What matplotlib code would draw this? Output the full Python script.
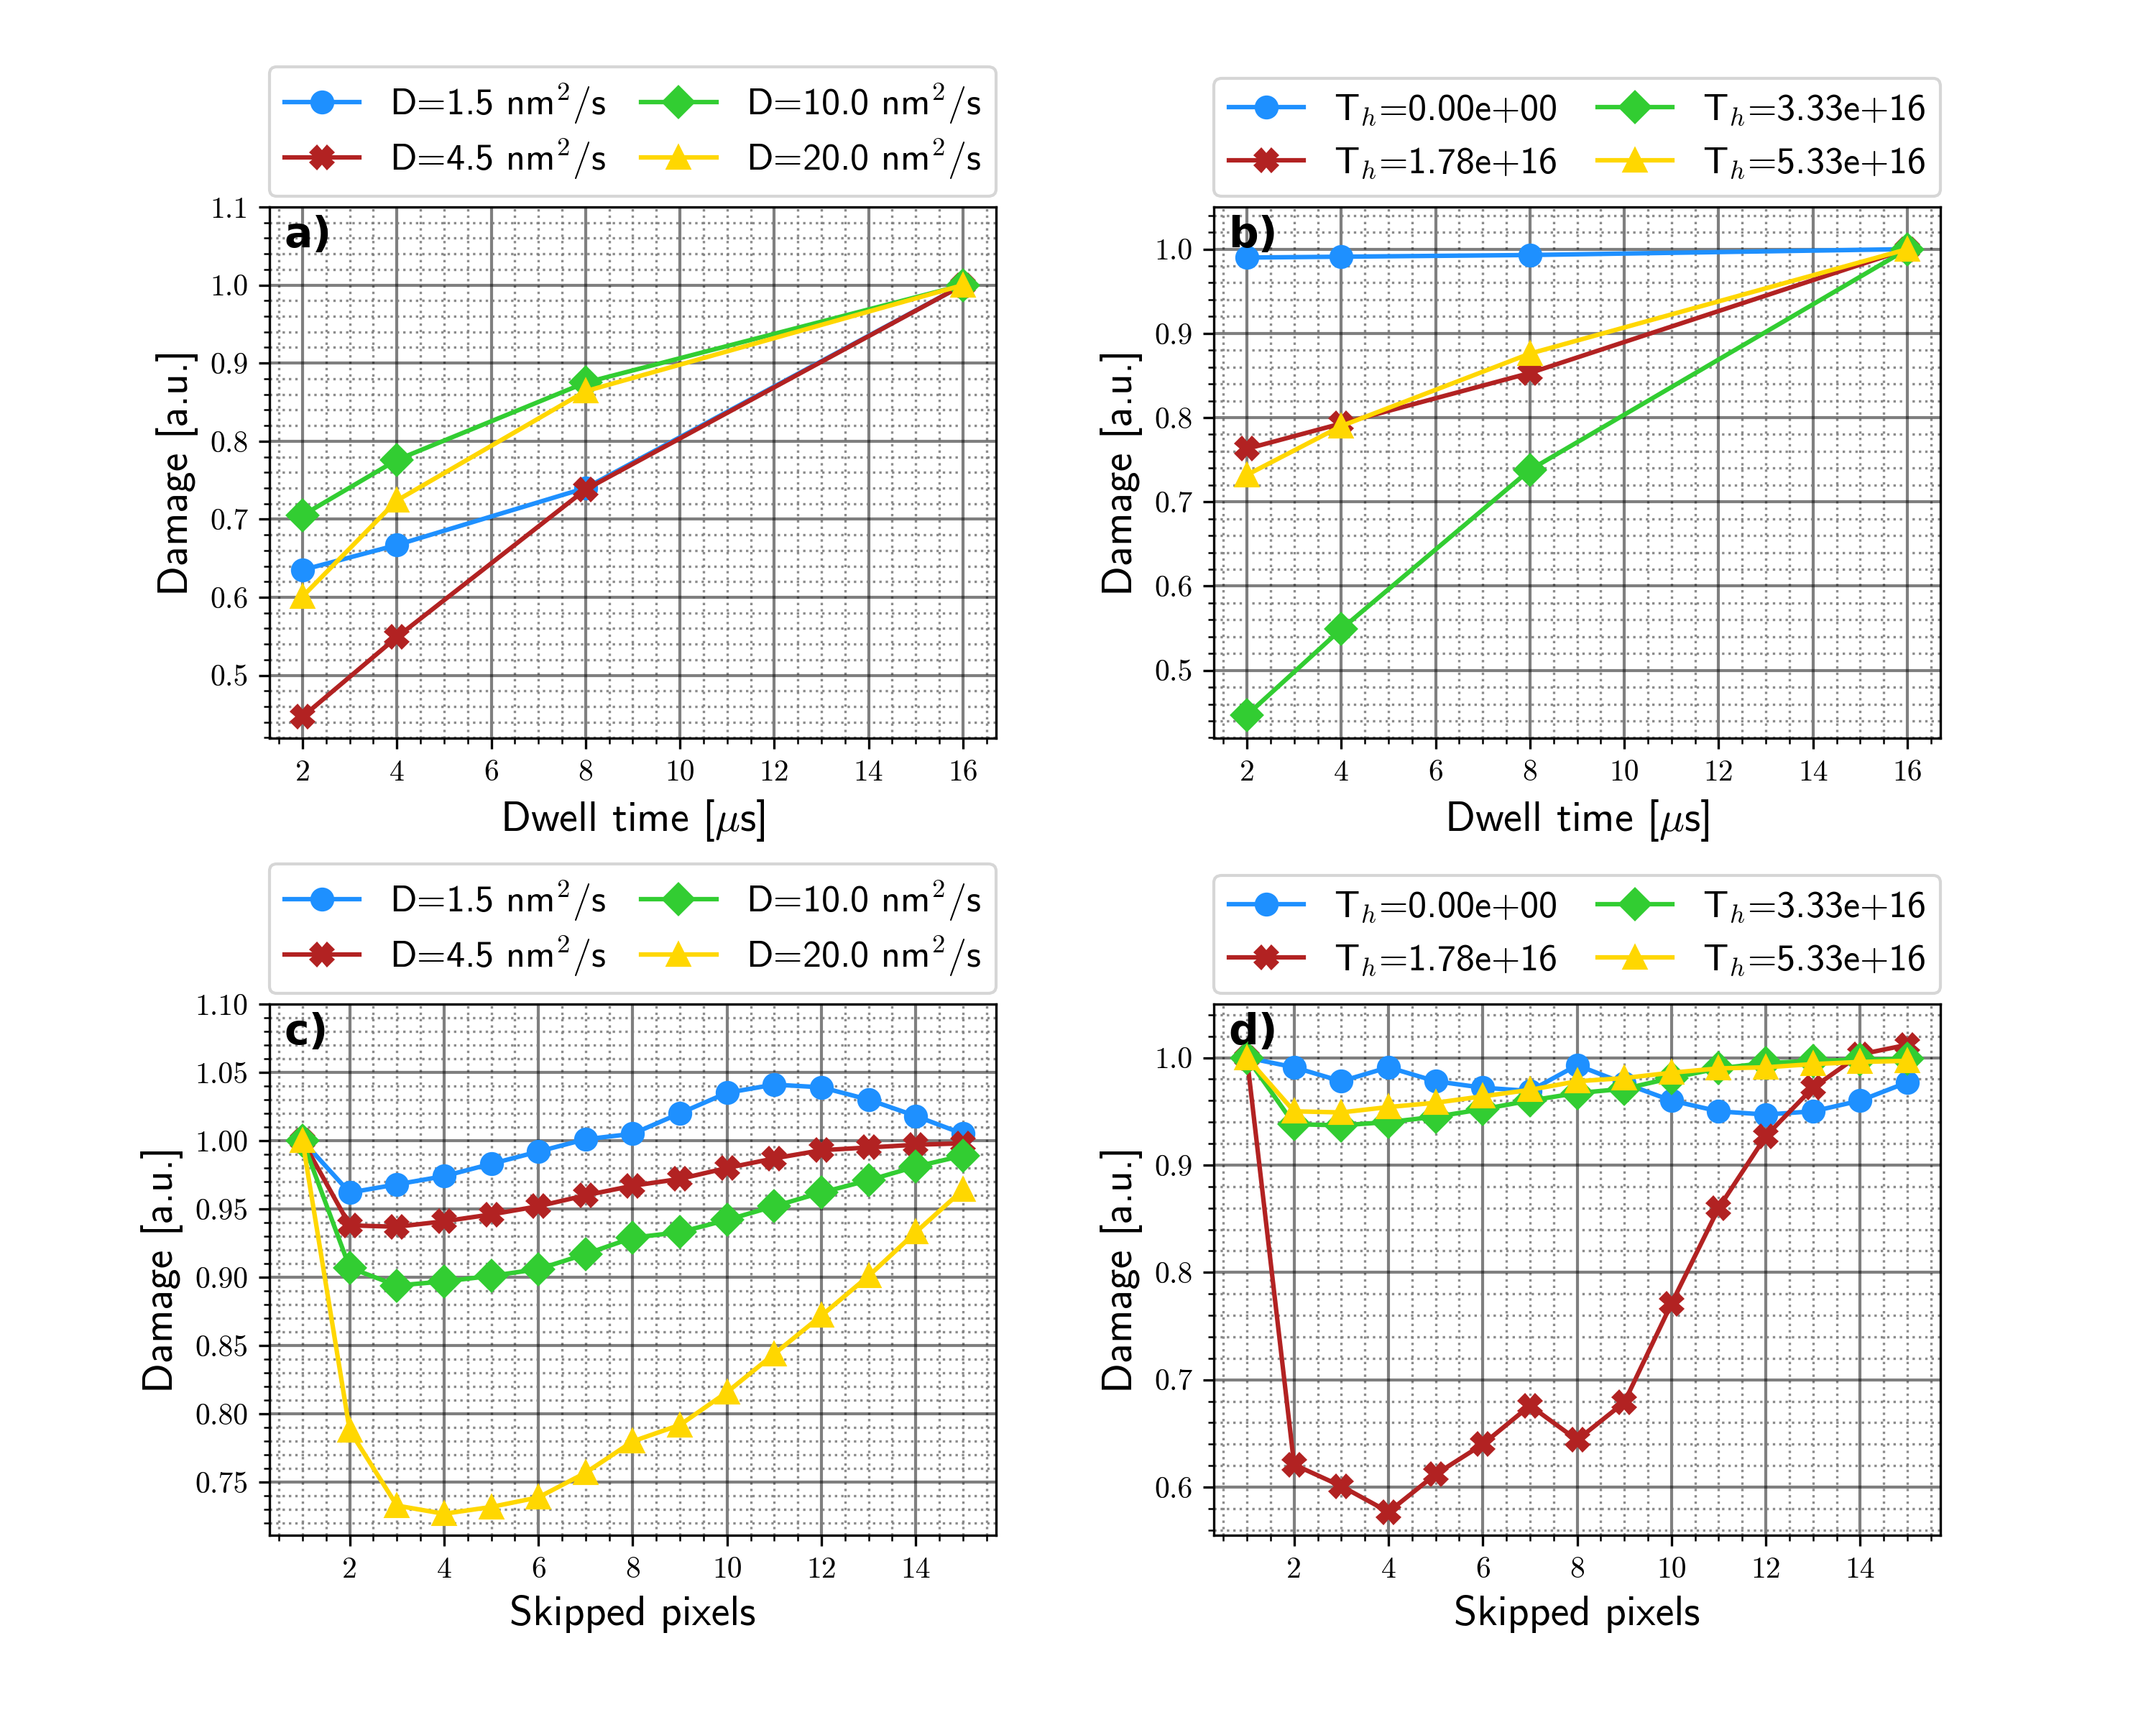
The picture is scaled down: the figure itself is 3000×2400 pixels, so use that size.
import matplotlib
matplotlib.use("Agg")
import matplotlib.pyplot as plt
from matplotlib.ticker import AutoMinorLocator

plt.rcParams["mathtext.fontset"] = "cm"
plt.rcParams["font.family"] = "cmss10"
plt.rcParams["axes.unicode_minus"] = False

# Dwell time sweep (panels a, b)
dwell = [2, 4, 8, 16]
dwell_D = {
    "1.5": [0.635, 0.667, 0.740, 1.0],
    "4.5": [0.447, 0.549, 0.738, 1.0],
    "10.0": [0.705, 0.776, 0.875, 1.0],
    "20.0": [0.601, 0.724, 0.864, 1.0],
}
dwell_T = {
    "0.00e+00": [0.990, 0.991, 0.993, 1.0],
    "1.78e+16": [0.763, 0.793, 0.853, 1.0],
    "3.33e+16": [0.447, 0.549, 0.738, 1.0],
    "5.33e+16": [0.732, 0.790, 0.876, 1.0],
}

# Skipped pixels sweep (panels c, d)
skipped = list(range(1, 16))
skip_D = {
    "1.5": [1.0, 0.962, 0.968, 0.974, 0.983, 0.992, 1.001, 1.005, 1.020,
            1.035, 1.041, 1.039, 1.030, 1.018, 1.005],
    "4.5": [1.0, 0.938, 0.937, 0.941, 0.946, 0.952, 0.960, 0.967, 0.972,
            0.980, 0.987, 0.993, 0.995, 0.997, 0.998],
    "10.0": [1.0, 0.907, 0.894, 0.897, 0.901, 0.906, 0.917, 0.929, 0.933,
             0.942, 0.952, 0.962, 0.971, 0.981, 0.989],
    "20.0": [1.0, 0.788, 0.733, 0.727, 0.732, 0.739, 0.757, 0.780, 0.792,
             0.816, 0.844, 0.872, 0.901, 0.933, 0.964],
}
skip_T = {
    "0.00e+00": [1.0, 0.991, 0.978, 0.991, 0.978, 0.972, 0.969, 0.993, 0.976,
                 0.960, 0.950, 0.947, 0.950, 0.960, 0.977],
    "1.78e+16": [1.0, 0.621, 0.601, 0.577, 0.612, 0.640, 0.676, 0.644, 0.679,
                 0.771, 0.860, 0.927, 0.972, 1.003, 1.012],
    "3.33e+16": [1.0, 0.938, 0.937, 0.940, 0.945, 0.952, 0.960, 0.967, 0.971,
                 0.981, 0.990, 0.995, 0.997, 0.998, 0.999],
    "5.33e+16": [1.0, 0.950, 0.949, 0.954, 0.958, 0.964, 0.970, 0.978, 0.981,
                 0.986, 0.990, 0.991, 0.994, 0.996, 0.997],
}

colors = ["dodgerblue", "firebrick", "limegreen", "gold"]
markers = ["o", "X", "D", "^"]


def plot_panel(ax, x, series, kind, xlabel, tag, ytop):
    for (name, vals), c, m in zip(series.items(), colors, markers):
        if kind == "D":
            label = "D=" + name + " nm$^2/$s"
        else:
            label = "T$_h$=" + name
        ax.plot(x, vals, color=c, marker=m, markersize=7, lw=1.5, label=label)

    ax.set_ylim(top=ytop)
    ax.xaxis.set_minor_locator(AutoMinorLocator())
    ax.yaxis.set_minor_locator(AutoMinorLocator())
    ax.grid(which="major", color="k", alpha=0.5, lw=1.0)
    ax.grid(which="minor", color="gray", ls=":", lw=0.8, alpha=0.9)
    ax.tick_params(labelsize=10, labelfontfamily="cmr10")
    ax.tick_params(which="both", top=False, right=False)
    ax.set_xlabel(xlabel, fontsize=14)
    ax.set_ylabel("Damage [a.u.]", fontsize=14)
    ax.text(0.02, 0.985, tag, transform=ax.transAxes, ha="left", va="top",
            fontsize=14, fontweight="bold", family="DejaVu Sans")
    # superscripts make the D rows taller, tighten them a bit
    spacing = 0.3 if kind == "D" else 0.5
    ax.legend(bbox_to_anchor=(0.0, 1.02, 1.0, 0.102), loc="lower left",
              ncol=2, mode="expand", borderaxespad=0.0, labelspacing=spacing,
              prop={"family": "cmss10", "size": 12.5})


fig, axes = plt.subplots(2, 2, figsize=(10, 8))
fig.subplots_adjust(wspace=0.3, hspace=0.5)

plot_panel(axes[0, 0], dwell, dwell_D, "D", r"Dwell time [$\mu$s]", "a)", 1.1)
plot_panel(axes[0, 1], dwell, dwell_T, "T", r"Dwell time [$\mu$s]", "b)", 1.05)
plot_panel(axes[1, 0], skipped, skip_D, "D", "Skipped pixels", "c)", 1.10)
plot_panel(axes[1, 1], skipped, skip_T, "T", "Skipped pixels", "d)", 1.05)

axes[1, 0].yaxis.set_major_formatter(plt.FormatStrFormatter("%.2f"))
axes[0, 0].yaxis.set_major_formatter(plt.FormatStrFormatter("%.1f"))

fig.savefig("out.png", dpi=300)
